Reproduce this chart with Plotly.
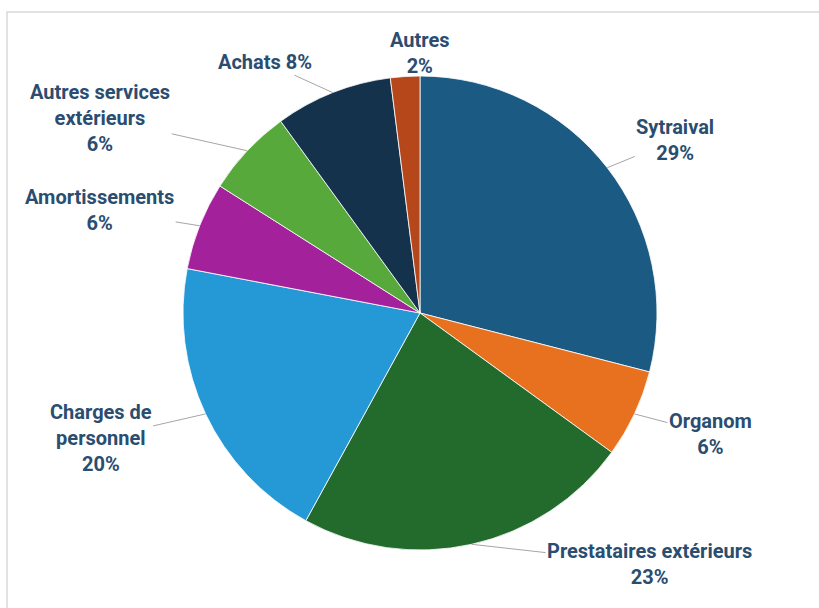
import math
import plotly.graph_objects as go

# Répartition des charges (%)
labels = ["Sytraival", "Organom", "Prestataires extérieurs", "Charges de personnel",
          "Amortissements", "Autres services extérieurs", "Achats", "Autres"]
values = [29, 6, 23, 20, 6, 6, 8, 2]
display = ["Sytraival<br>29%", "Organom<br>6%", "Prestataires extérieurs<br>23%",
           "Charges de<br>personnel<br>20%", "Amortissements<br>6%",
           "Autres services<br>extérieurs<br>6%", "Achats 8%", "Autres<br>2%"]

COLORS = ["#1B5A82", "#E8711F", "#236B2C", "#2499D6",
          "#A3219B", "#56A93A", "#14324B", "#B5471B"]
TEXT_COLOR = "#2A4D70"

W, H = 819, 608
M_T, M_B = 76, 58
CX_PX, R_PX = 420, 237

# label offsets (pixels) from the slice edge, like the hand-placed Excel labels
label_offsets = [(68, -28), (76, 20), (178, 20), (-105, 24),
                 (-100, -16), (-147, -33), (-68, -31), (15, -23)]

plot_h = H - M_T - M_B
cx = CX_PX / W
cy = 0.5
rx = R_PX / W
ry = R_PX / plot_h

fig = go.Figure(go.Pie(
    labels=labels,
    values=values,
    sort=False,
    direction="clockwise",
    rotation=0,
    textinfo="none",
    hoverinfo="label+percent",
    marker=dict(colors=COLORS, line=dict(color="white", width=0.8)),
    domain=dict(x=[(CX_PX - R_PX) / W, (CX_PX + R_PX) / W], y=[0, 1]),
    showlegend=False,
))

total = sum(values)
cum = 0
annotations = []
for i, v in enumerate(values):
    mid = (cum + v / 2) / total * 2 * math.pi
    cum += v
    ax, ay = label_offsets[i]
    annotations.append(dict(
        x=cx + rx * math.sin(mid),
        y=cy + ry * math.cos(mid),
        xref="paper", yref="paper",
        ax=ax, ay=ay,
        text=display[i],
        showarrow=True,
        arrowhead=0,
        arrowwidth=1,
        arrowcolor="#A6A6A6",
        standoff=0,
        font=dict(family="Roboto, Arial", size=20, color=TEXT_COLOR, weight="bold"),
        align="center",
    ))

fig.update_layout(
    width=W, height=H,
    margin=dict(l=0, r=0, t=M_T, b=M_B),
    paper_bgcolor="white",
    plot_bgcolor="white",
    annotations=annotations,
    shapes=[dict(
        type="rect", xref="paper", yref="paper",
        x0=7 / W, x1=1.02,
        y0=-(M_B + 10) / plot_h, y1=(H - M_B - 12) / plot_h,
        line=dict(color="#D9D9D9", width=1.5),
        layer="below",
    )],
)

fig.write_html("out.html", config={"displayModeBar": False},
               post_script="document.body.style.margin='0';")
